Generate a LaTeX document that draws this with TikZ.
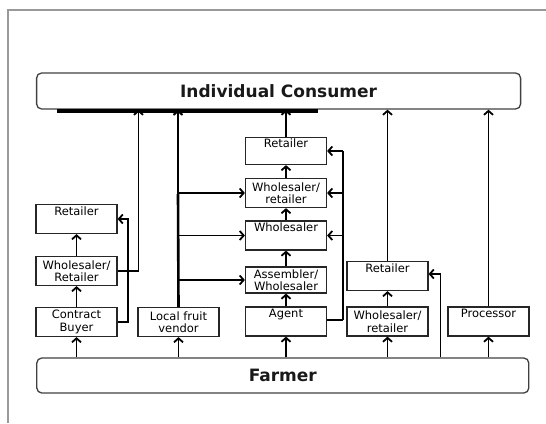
\documentclass[tikz,border=0pt]{standalone}
\usepackage{fontspec}
\setmainfont{DejaVu Sans}
\usetikzlibrary{arrows.meta}
\begin{document}
\begin{tikzpicture}[x=1pt,y=-1pt,
  box/.style={draw=black!85,line width=1.2pt,minimum width=81pt,minimum height=29pt,
    inner sep=1pt,align=center,text=black,
    font=\fontsize{11.5}{12.5}\selectfont},
  band/.style={draw=black!75,line width=1.3pt,rounded corners=5pt,inner sep=0pt,
    text=black!90,font=\bfseries\fontsize{17}{19}\selectfont},
  link/.style={line width=1.8pt,-{Straight Barb[length=4pt,width=9pt]}},
  wire/.style={line width=1.8pt},
  heavy/.style={line width=2.6pt},
  frame/.style={draw=black!40,line width=1.8pt}
]
\useasboundingbox (0,0) rectangle (546,423);
\draw[frame] (7.7,423) -- (7.7,9.7) -- (546,9.7);

% end points of the chain
\node[band,minimum width=484pt,minimum height=36pt] (cons) at (278.6,91) {Individual Consumer};
\node[band,minimum width=492pt,minimum height=35pt] (farm) at (282.8,375.5) {Farmer};
\draw[line width=4pt] (57,111) -- (318,111);

% left column
\node[box] (lret) at (76.5,219) {Retailer\\\strut};
\node[box] (lwr)  at (76.5,271) {Wholesaler/\\Retailer};
\node[box] (cb)   at (76.5,322) {Contract\\Buyer};
\node[box] (lfv)  at (178.5,322) {Local fruit\\vendor};

% agent column
\node[box,minimum height=26pt] (aret) at (286,151) {Retailer\\\strut};
\node[box] (awr)  at (286,193) {Wholesaler/\\retailer};
\node[box] (awh)  at (286,235.5) {Wholesaler\\\strut};
\node[box,minimum height=26pt] (aas) at (286,280) {Assembler/\\Wholesaler};
\node[box] (ag)   at (286,321.5) {Agent\\\strut};

% right columns
\node[box] (rret) at (387.5,276) {Retailer\\\strut};
\node[box] (rwr)  at (387.5,321.5) {Wholesaler/\\retailer};
\node[box] (proc) at (488.5,321.5) {Processor\\\strut};

% farmer to first buyers
\foreach \n in {cb,lfv,ag,rwr,proc}
  \draw[link] (\n.south |- farm.north) -- (\n.south);

% left column links
\draw[link] (cb) -- (lwr);
\draw[link] (lwr) -- (lret);
\coordinate (cbx) at (128,322);
\draw[link] (cb.east) -- (cbx) -- (cbx |- lret.east) -- (lret.east);
\coordinate (lwx) at (138.5,271);
\draw[link] (lwr.east) -- (lwx) -- (lwx |- cons.south);

% local fruit vendor
\coordinate (lfb) at (178,194);
\draw[heavy] (lfv.north) -- (lfb);
\draw[link,line width=2pt] (lfb) -- (lfb |- cons.south);
\foreach \n in {awr,awh,aas}
  \draw[link] (lfv.north |- \n.west) -- (\n.west);

% agent column links
\draw[link] (ag) -- (aas);
\draw[link] (aas) -- (awh);
\draw[link] (awh) -- (awr);
\draw[link] (awr) -- (aret);
\draw[link] (aret) -- (aret.north |- cons.south);
\coordinate (agx) at (343,320);
\draw[heavy] (ag.east |- agx) -- (agx);
\draw[wire] (agx) -- (agx |- aret.east);
\foreach \n in {aret,awr,awh}
  \draw[link] (agx |- \n.east) -- (\n.east);

% right columns links
\draw[link] (rwr) -- (rret);
\draw[link] (rret) -- (rret.north |- cons.south);
\coordinate (rfx) at (440.5,274);
\draw[link] (rfx |- farm.north) -- (rfx) -- (rret.east |- rfx);
\draw[link] (proc) -- (proc.north |- cons.south);
\end{tikzpicture}
\end{document}
